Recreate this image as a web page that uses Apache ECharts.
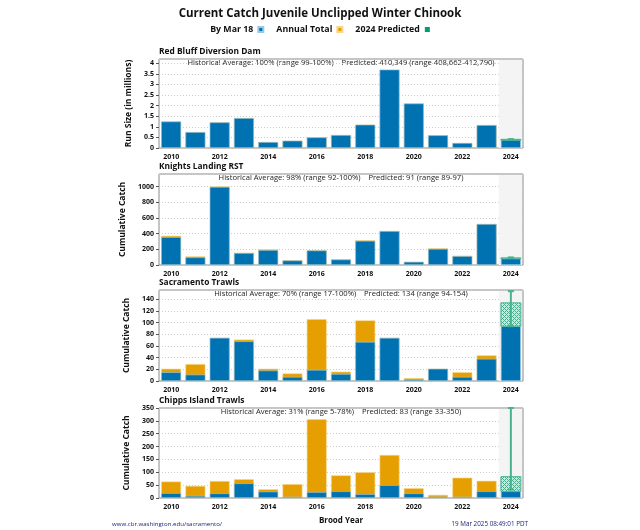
<!DOCTYPE html>
<html>
<head>
<meta charset="utf-8">
<script src="https://cdn.jsdelivr.net/npm/echarts@6/dist/echarts.min.js"></script>
<style>html,body{margin:0;padding:0;background:#fff}#c{width:640px;height:530px}</style>
</head>
<body>
<div id="c"></div>
<script>
// ---------- data ----------
var years = ['2010','2011','2012','2013','2014','2015','2016','2017','2018','2019','2020','2021','2022','2023','2024'];

var rbddCurrent = [1.25,0.75,1.21,1.41,0.28,0.345,0.50,0.61,1.10,3.70,2.10,0.60,0.235,1.08,0.41];
var rbddTotal   = [1.25,0.75,1.21,1.41,0.28,0.345,0.50,0.61,1.10,3.70,2.10,0.60,0.235,1.08,null];
var rbddPred    = [0.410349,0.408662,0.412790]; // predicted, low, high

var klCurrent = [355,97,995,152,190,58,185,70,308,432,40,205,112,522,89];
var klTotal   = [372,110,1000,157,200,60,187,72,315,434,42,213,119,523,null];
var klPred    = [91,89,97];

var sacCurrent = [15,11,74,68,18,7,19,12,67,74,3,21,7,38,94];
var sacTotal   = [21,29,74,71,21,13,106,16,104,74,5,21,15,44,null];
var sacPred    = [134,94,154];

var chCurrent = [19,8,18,57,25,5,23,26,15,50,18,5,5,26,26];
var chTotal   = [64,47,66,73,34,54,306,88,100,167,38,12,79,67,null];
var chPred    = [83,33,350];

var panelTitles = ['Red Bluff Diversion Dam','Knights Landing RST','Sacramento Trawls','Chipps Island Trawls'];
var panelNotes = [
  'Historical Average: 100% (range 99-100%)    Predicted: 410,349 (range 408,662-412,790)',
  'Historical Average: 98% (range 92-100%)    Predicted: 91 (range 89-97)',
  'Historical Average: 70% (range 17-100%)    Predicted: 134 (range 94-154)',
  'Historical Average: 31% (range 5-78%)    Predicted: 83 (range 33-350)'
];
var yNames = ['Run Size (in millions)','Cumulative Catch','Cumulative Catch','Cumulative Catch'];
var yMax = [4.2,1160,156,350];
var yInterval = [0.5,200,20,50];
var legendNames = ['By Mar 18','Annual Total','2024 Predicted'];

// ---------- style ----------
var BLUE = '#0072B2', ORANGE = '#E69F00', GREEN = '#009E73';
var FONT = 'Open Sans';
var tops = [59,174,290,408];
var heights = [89,91,91,90];
var LEFT = 159, WIDTH = 364;

var hatch = document.createElement('canvas');
hatch.width = 4; hatch.height = 4;
(function(){
  var g = hatch.getContext('2d');
  g.fillStyle = '#c8eadd'; g.fillRect(0,0,4,4);
  g.fillStyle = '#45b08f';
  g.fillRect(0,0,1,1); g.fillRect(2,2,1,1); g.fillRect(1,1,1,1); g.fillRect(3,3,1,1);
  g.fillRect(3,1,1,1); g.fillRect(1,3,1,1);
})();

var currents = [rbddCurrent, klCurrent, sacCurrent, chCurrent];
var totals = [rbddTotal, klTotal, sacTotal, chTotal];
var preds = [rbddPred, klPred, sacPred, chPred];

var grids = [], xAxes = [], yAxes = [], series = [], graphics = [];

for (var i = 0; i < 4; i++) {
  grids.push({left: LEFT, top: tops[i], width: WIDTH, height: heights[i],
    show: true, borderColor: '#8a8a8a', borderWidth: 1, backgroundColor: 'transparent'});
  xAxes.push({type: 'category', gridIndex: i, data: years,
    axisLine: {show: false}, axisTick: {show: false},
    axisLabel: {interval: 1, fontFamily: FONT, fontWeight: 'bold', fontSize: 7, color: '#111', margin: 5}});
  yAxes.push({type: 'value', gridIndex: i, min: 0, max: yMax[i], interval: yInterval[i],
    name: yNames[i], nameLocation: 'middle', nameGap: 26,
    nameTextStyle: {fontFamily: FONT, fontWeight: 'bold', fontSize: 8.5, color: '#111'},
    axisLine: {show: false},
    axisTick: {show: true, length: 3, lineStyle: {color: '#555'}},
    axisLabel: {fontFamily: FONT, fontWeight: 'bold', fontSize: 7, color: '#111', margin: 5,
      showMaxLabel: i === 3, formatter: function (v) { return String(v); }},
    splitLine: {show: true, lineStyle: {color: '#cccccc', type: [1,2], width: 1}}});

  // 2024 shaded band
  series.push({type: 'custom', xAxisIndex: i, yAxisIndex: i, z: 1, silent: true,
    data: [[years.length - 1]],
    renderItem: function (params, api) {
      var cs = params.coordSys;
      var cx = api.coord([api.value(0), 0])[0];
      var w = api.size([1, 0])[0];
      return {type: 'rect', shape: {x: cx - w / 2, y: cs.y + 1, width: w - 1, height: cs.height - 1},
        style: {fill: '#f4f4f4'}};
    }});

  series.push({name: 'Annual Total', type: 'bar', xAxisIndex: i, yAxisIndex: i, z: 2,
    data: totals[i], barWidth: '82%', barGap: '-100%',
    itemStyle: {color: ORANGE, borderColor: '#f7d58a', borderWidth: 0.6}});
  series.push({name: 'By Mar 18', type: 'bar', xAxisIndex: i, yAxisIndex: i, z: 3,
    data: currents[i], barWidth: '82%', barGap: '-100%',
    itemStyle: {color: BLUE, borderColor: '#9cc9e6', borderWidth: 0.6}});

  (function(idx){
    var cur = currents[idx][years.length - 1];
    var p = preds[idx];
    series.push({name: '2024 Predicted', type: 'custom', xAxisIndex: idx, yAxisIndex: idx, z: 5,
      data: [[years.length - 1, cur, p[0], p[1], p[2]]],
      renderItem: function (params, api) {
        var x = api.value(0);
        var cx = api.coord([x, 0])[0];
        var w = api.size([1, 0])[0] * 0.82;
        var y0 = api.coord([x, api.value(1)])[1];
        var y1 = api.coord([x, api.value(2)])[1];
        var yl = api.coord([x, api.value(3)])[1];
        var yh = api.coord([x, api.value(4)])[1];
        var top = Math.min(y0, y1), hh = Math.max(Math.abs(y0 - y1), 1);
        var cap = 3;
        return {type: 'group', children: [
          {type: 'rect', shape: {x: cx - w / 2, y: top, width: w, height: hh},
            style: {fill: {image: hatch, repeat: 'repeat'}, stroke: '#48b392', lineWidth: 1}},
          {type: 'line', shape: {x1: cx, y1: yl, x2: cx, y2: yh}, style: {stroke: '#48b392', lineWidth: 2}},
          {type: 'line', shape: {x1: cx - cap, y1: yl, x2: cx + cap, y2: yl}, style: {stroke: '#48b392', lineWidth: 2}},
          {type: 'line', shape: {x1: cx - cap, y1: yh, x2: cx + cap, y2: yh}, style: {stroke: '#48b392', lineWidth: 2}}
        ]};
      }});
  })(i);

  graphics.push({type: 'text', left: LEFT, top: tops[i] - 11.5,
    style: {text: panelTitles[i], font: 'bold 8.4px "' + FONT + '"', fill: '#111'}});
  graphics.push({type: 'text', x: LEFT + WIDTH / 2, y: tops[i] + 3.6,
    style: {text: panelNotes[i], font: '7.6px "' + FONT + '"', fill: '#222', textAlign: 'center', textVerticalAlign: 'middle'}});
}

graphics.push({type: 'text', x: 341, y: 521,
  style: {text: 'Brood Year', font: 'bold 8px "' + FONT + '"', fill: '#111', textAlign: 'center', textVerticalAlign: 'middle'}});
graphics.push({type: 'text', x: 112, y: 524,
  style: {text: 'www.cbr.washington.edu/sacramento/', font: '6.1px "' + FONT + '"', fill: '#1a237e', textVerticalAlign: 'middle'}});
graphics.push({type: 'text', x: 528, y: 524,
  style: {text: '19 Mar 2025 08:49:01 PDT', font: '6.3px "' + FONT + '"', fill: '#1a237e', textAlign: 'right', textVerticalAlign: 'middle'}});

var chart = echarts.init(document.getElementById('c'), null, {renderer: 'canvas'});
chart.setOption({
  animation: false,
  color: [BLUE, ORANGE, GREEN],
  title: {text: 'Current Catch Juvenile Unclipped Winter Chinook', left: 'center', top: 3,
    textStyle: {fontFamily: FONT, fontWeight: 'bold', fontSize: 11.5, color: '#111'}},
  legend: {top: 20, left: 'center', align: 'right', icon: 'rect', itemWidth: 5, itemHeight: 5, itemGap: 12,
    data: [{name: 'By Mar 18', itemStyle: {color: BLUE}}, {name: 'Annual Total', itemStyle: {color: ORANGE}},
           {name: '2024 Predicted', itemStyle: {color: GREEN}}],
    textStyle: {fontFamily: FONT, fontWeight: 'bold', fontSize: 8.8, color: '#111'},
    selectedMode: false},
  grid: grids, xAxis: xAxes, yAxis: yAxes, series: series, graphic: graphics
});
</script>
</body>
</html>
